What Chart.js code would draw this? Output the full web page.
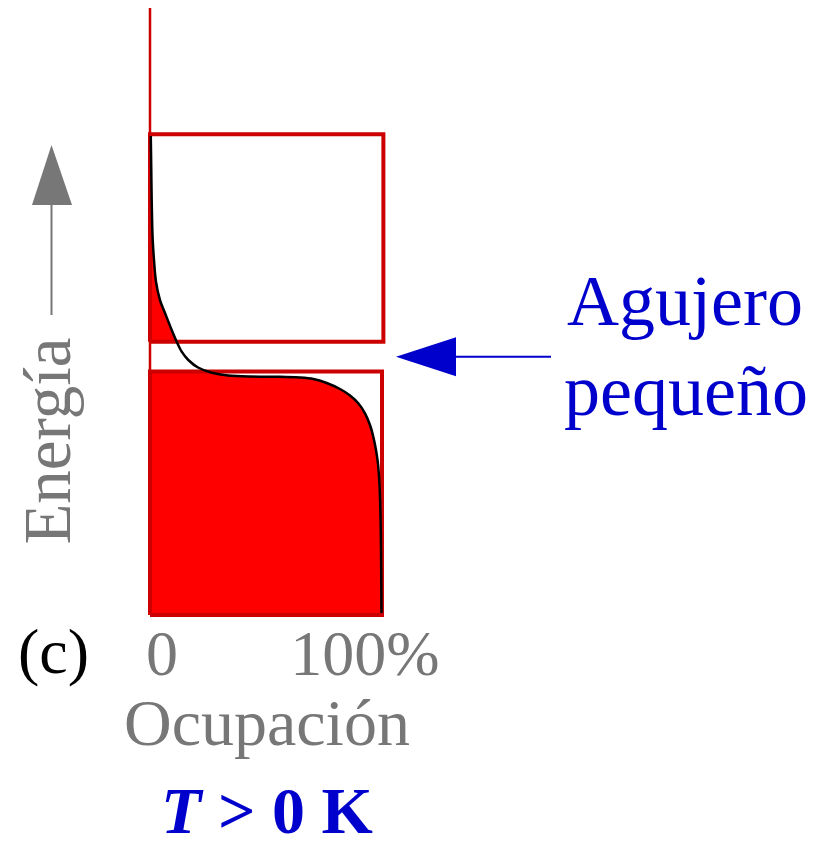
<!DOCTYPE html>
<html><head><meta charset="utf-8">
<script src="https://cdn.jsdelivr.net/npm/chart.js@4.4.1/dist/chart.umd.min.js"></script>
<style>html,body{margin:0;padding:0;background:#fff;}canvas{display:block;}</style>
</head><body>
<canvas id="c" width="823" height="842"></canvas>
<script>
// Occupation curve, top to bottom
const occupancy = [0.34,0.52,0.73,1.08,1.72,2.59,4.31,6.47,9.35,11.51,13.66,16.51,20.69,26.29,33.62,43.10,56.03,64.66,70.39,76.16,81.90,86.21,89.78,92.67,94.83,96.25,97.41,98.41,99.14,99.57,99.78];
const energy    = [78.91,74.14,68.37,62.60,58.48,54.86,51.89,49.75,46.95,45.02,43.38,42.01,40.77,39.95,39.46,39.29,39.24,39.11,38.88,38.22,37.23,36.16,34.88,33.23,31.30,29.37,27.18,24.38,19.44,11.20,0.33];
// Bands (energy ranges) and band widths (occupation %)
const lowerBand = [0, 40.1];
const upperBand = [45.0, 79.2];
const lowerBandWidth = 100;
const upperBandWidth = 100.6;
const tickValues = [0, 100];
const tickLabels = ['0', '100%'];
const xTitle = 'Ocupación';
const yTitle = 'Energía';
const panelLabel = '(c)';
const noteLines = ['Agujero', 'pequeño'];
const tempLabel = ['T', ' > 0 K'];

const curvePts = occupancy.map((x, i) => ({x, y: energy[i]}));
const fillPts = [{x:0, y:0}].concat(curvePts.slice().reverse()).concat([{x:0, y:energy[0]}]);
function rect(x0, x1, y0, y1){ return [{x:x0,y:y0},{x:x1,y:y0},{x:x1,y:y1},{x:x0,y:y1},{x:x0,y:y0}]; }

const SERIF = '"Liberation Serif","Times New Roman",serif';

const textPlugin = {
  id: 'texts',
  afterDraw(chart) {
    const ctx = chart.ctx, xs = chart.scales.x, ys = chart.scales.y, ca = chart.chartArea;
    ctx.save();
    ctx.textBaseline = 'alphabetic';
    // Energy axis title + arrow
    ctx.fillStyle = '#777777'; ctx.strokeStyle = '#777777';
    ctx.save();
    ctx.translate(70, 441); ctx.rotate(-Math.PI/2);
    ctx.font = '67px ' + SERIF; ctx.textAlign = 'center';
    ctx.fillText(yTitle, 0, 0);
    ctx.restore();
    ctx.lineWidth = 2;
    ctx.beginPath(); ctx.moveTo(51.5, 315); ctx.lineTo(51.5, 204); ctx.stroke();
    ctx.beginPath(); ctx.moveTo(51.5, 145); ctx.lineTo(32, 205); ctx.lineTo(72, 205); ctx.closePath(); ctx.fill();
    // tick labels
    ctx.font = '64px ' + SERIF; ctx.textAlign = 'center';
    const offs = [12, -17];
    tickValues.forEach((v, i) => ctx.fillText(tickLabels[i], xs.getPixelForValue(v) + offs[i], 675));
    ctx.font = '66px ' + SERIF;
    ctx.fillText(xTitle, (ca.left + ca.right)/2 + 1, 745);
    // panel label
    ctx.fillStyle = '#000'; ctx.font = '64px ' + SERIF; ctx.textAlign = 'left';
    ctx.fillText(panelLabel, 18, 673);
    // blue arrow pointing to gap
    const yg = ys.getPixelForValue((lowerBand[1] + upperBand[0]) / 2);
    const tipX = ca.right + 14;
    ctx.fillStyle = '#0000cc'; ctx.strokeStyle = '#0000cc'; ctx.lineWidth = 2;
    ctx.beginPath(); ctx.moveTo(tipX + 58, yg); ctx.lineTo(551, yg); ctx.stroke();
    ctx.beginPath(); ctx.moveTo(tipX, yg); ctx.lineTo(tipX + 60, yg - 19.5); ctx.lineTo(tipX + 60, yg + 19.5); ctx.closePath(); ctx.fill();
    ctx.font = '72px ' + SERIF; ctx.textAlign = 'left';
    ctx.fillText(noteLines[0], 567, 325);
    ctx.fillText(noteLines[1], 564, 415);
    // temperature label
    const f1 = 'italic bold 66px ' + SERIF, f2 = 'bold 66px ' + SERIF;
    ctx.font = f1; const w1 = ctx.measureText(tempLabel[0]).width;
    ctx.font = f2; const w2 = ctx.measureText(tempLabel[1]).width;
    const x0 = 267 - (w1 + w2)/2;
    ctx.font = f1; ctx.fillText(tempLabel[0], x0, 833);
    ctx.font = f2; ctx.fillText(tempLabel[1], x0 + w1, 833);
    ctx.restore();
  }
};

const common = {showLine: true, pointRadius: 0, clip: false, borderJoinStyle: 'miter'};
new Chart(document.getElementById('c'), {
  type: 'scatter',
  data: { datasets: [
    Object.assign({}, common, {label:'curve', data: curvePts, borderColor:'#000', borderWidth:2.5, tension:0.3, fill:false, order:1}),
    Object.assign({}, common, {label:'axis', data: [{x:0,y:0},{x:0,y:100}], borderColor:'#cc0000', borderWidth:2.5, tension:0, fill:false, order:2}),
    Object.assign({}, common, {label:'upper', data: rect(0, upperBandWidth, upperBand[0], upperBand[1]), borderColor:'#cc0000', borderWidth:4, tension:0, fill:false, order:3}),
    Object.assign({}, common, {label:'lower', data: rect(0, lowerBandWidth, lowerBand[0], lowerBand[1]), borderColor:'#cc0000', borderWidth:4, tension:0, fill:false, order:3}),
    Object.assign({}, common, {label:'gap', data: rect(0, upperBandWidth, lowerBand[1], upperBand[0]), borderWidth:0, borderColor:'rgba(0,0,0,0)', backgroundColor:'#ffffff', tension:0, fill:'shape', order:4}),
    Object.assign({}, common, {label:'occupied', data: fillPts, borderWidth:0, borderColor:'rgba(0,0,0,0)', backgroundColor:'#ff0000', tension:0.3, fill:'shape', order:5})
  ]},
  options: {
    responsive: false, animation: false, devicePixelRatio: 1,
    layout: {padding: {left:150, right:441, top:8, bottom:227}},
    plugins: {legend:{display:false}, tooltip:{enabled:false}},
    scales: {
      x: {type:'linear', min:0, max:100, display:false},
      y: {type:'linear', min:0, max:100, display:false}
    }
  },
  plugins: [textPlugin]
});
</script>
</body></html>
